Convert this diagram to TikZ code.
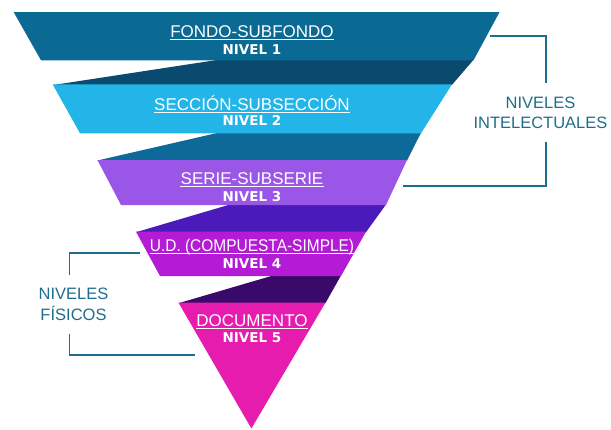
\documentclass[tikz,border=0pt]{standalone}
\usepackage{fontspec}
\setmainfont{Liberation Sans}
\newfontfamily\heavyfont{DejaVu Sans}
\usetikzlibrary{calc}

\definecolor{nivA}{HTML}{0B6A93}
\definecolor{nivAB}{HTML}{094A6E}
\definecolor{nivB}{HTML}{24B5E8}
\definecolor{nivBC}{HTML}{0D6A98}
\definecolor{nivC}{HTML}{9A56E6}
\definecolor{nivCD}{HTML}{4A1ABA}
\definecolor{nivD}{HTML}{B31BD4}
\definecolor{nivDE}{HTML}{3A0A6A}
\definecolor{nivE}{HTML}{E61CAE}
\definecolor{llaveazul}{HTML}{1E6D8C}

\tikzset{
	titulo/.style={text=white, font=\fontsize{17}{20}\selectfont, anchor=base, inner sep=0pt},
	nivel/.style={text=white, font=\heavyfont\bfseries\fontsize{13.5}{16}\selectfont, anchor=base, inner sep=0pt},
	lado/.style={text=llaveazul, font=\fontsize{16.5}{20.5}\selectfont, align=center, inner sep=0pt},
	llave/.style={draw=llaveazul, line width=1.7pt},
	subraya/.style={draw=white, line width=0.9pt}
}

\begin{document}
\begin{tikzpicture}[x=1pt, y=-1pt]
			%%%%% START %%%%%
			\useasboundingbox (0, 0) rectangle (611, 429);
			
			% bandas de union
			\fill[nivAB] (218, 59.8) -- (473.5, 59.8) -- (452, 84.8) -- (54.6, 84.8) -- cycle;
			\fill[nivBC] (218, 132.8) -- (421, 132.8) -- (407, 160.5) -- (97.4, 160.5) -- cycle;
			\fill[nivCD] (230, 204.5) -- (386, 204.5) -- (366, 232.2) -- (136, 232.2) -- cycle;
			\fill[nivDE] (273, 275.5) -- (341, 275.5) -- (325.4, 303.2) -- (178.5, 303.2) -- cycle;
			
			% niveles
			\fill[nivA] (13.6, 12) -- (499.6, 12) -- (473.5, 60.3) -- (41, 60.3) -- cycle;
			\fill[nivB] (52.6, 84.3) -- (452, 84.3) -- (421, 133.3) -- (80, 133.3) -- cycle;
			\fill[nivC] (97.4, 160) -- (407, 160) -- (386, 205) -- (121, 205) -- cycle;
			\fill[nivD] (136, 231.7) -- (366, 231.7) -- (341, 276) -- (160, 276) -- cycle;
			\fill[nivE] (178.5, 302.7) -- (325.4, 302.7) -- (251.4, 428.5) -- cycle;
			
			% textos
			\node[titulo] (t1) at (252, 37.3) {FONDO-SUBFONDO};
			\node[nivel] (n1) at (252, 54.3) {NIVEL 1};
			\node[titulo] (t2) at (252, 110) {SECCIÓN-SUBSECCIÓN};
			\node[nivel] (n2) at (252, 125.7) {NIVEL 2};
			\node[titulo] (t3) at (252, 184) {SERIE-SUBSERIE};
			\node[nivel] (n3) at (252, 201.7) {NIVEL 3};
			\node[titulo] (t4) at (252, 251) {\scalebox{0.91}[1]{U.D. (COMPUESTA-SIMPLE)}};
			\node[nivel] (n4) at (252, 268.7) {NIVEL 4};
			\node[titulo] (t5) at (252, 326) {DOCUMENTO};
			\node[nivel] (n5) at (252, 342.7) {NIVEL 5};
			
			\foreach \t in {t1, t2, t3, t4, t5}
				\draw[subraya] ([yshift=-2.3pt]\t.base west) -- ([yshift=-2.3pt]\t.base east);
			
			% llaves laterales
			\node[lado] (intel) at (540.5, 113) {NIVELES\\INTELECTUALES};
			\node[lado] (fisic) at (73.5, 304.4) {NIVELES\\FÍSICOS};
			
			\coordinate (intelA) at (490, 35.7);
			\coordinate (intelB) at (403, 185.7);
			\coordinate (fisicA) at (140.3, 253.3);
			\coordinate (fisicB) at (195, 355);
			
			\draw[llave] (intelA) -| ($(intel.north -| 545.7, 0)+(0, -14)$);
			\draw[llave] (intelB) -| ($(intel.south -| 545.7, 0)+(0, 13)$);
			\draw[llave] (fisicA) -| ($(fisic.north -| 69.4, 0)+(0, -13)$);
			\draw[llave] (fisicB) -| ($(fisic.south -| 69.4, 0)+(0, 13)$);
			
			%%%%% END %%%%%
		\end{tikzpicture}
\end{document}
